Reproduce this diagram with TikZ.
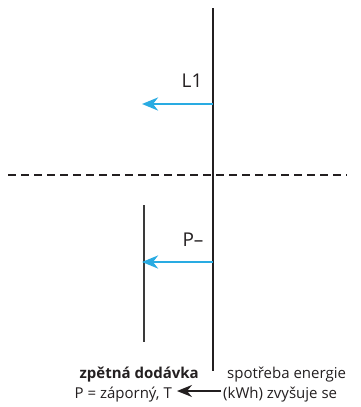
\documentclass[tikz,border=0pt]{standalone}
\usepackage{fontspec}
\setmainfont{Open Sans}
\usetikzlibrary{arrows.meta}
\definecolor{flowblue}{HTML}{29ABE2}
\definecolor{axisink}{HTML}{231F20}
\definecolor{thingray}{HTML}{3A3A3A}
\tikzset{
  axis/.style={draw=axisink, line width=2.6pt},
  divide/.style={draw=axisink, line width=2.2pt, dash pattern=on 8pt off 5pt},
  guide/.style={draw=thingray, line width=1.1pt},
  flow/.style={-{Stealth[length=16pt, width=13pt, inset=5pt]}, draw=flowblue, line width=2.6pt},
  count/.style={-{Stealth[length=15pt, width=12pt, inset=5pt]}, draw=axisink, line width=2pt},
  lbl/.style={font=\fontsize{19}{21}\selectfont, text=axisink, inner sep=0pt},
  note/.style={font=\fontsize{15}{17}\selectfont, text=axisink, inner sep=0pt},
}
\begin{document}
\begin{tikzpicture}[x=1pt,y=-1pt]
  \useasboundingbox (0,0) rectangle (361,407);
  % axis and divide
  \coordinate (top) at (213,8);
  \coordinate (bot) at (213,371);
  \draw[axis] (top) -- (bot);
  \coordinate (dl) at (8,175);
  \coordinate (dr) at (347,175);
  \draw[divide] (dl) -- (dr);
  \coordinate (gtop) at (144,205);
  \coordinate (gbot) at (144,342);
  \draw[guide] (gtop) -- (gbot);
  % flows
  \coordinate (l1s) at (213,104);
  \coordinate (l1e) at (142,104);
  \draw[flow] (l1s) -- (l1e);
  \node[lbl] (l1) at (192,81) {L1};
  \coordinate (pms) at (213,262);
  \coordinate (pme) at (142,262);
  \draw[flow] (pms) -- (pme);
  \node[lbl] (pm) at (193,240) {P–};
  % notes
  \node[note, anchor=base east, font=\fontsize{15}{17}\selectfont\bfseries] (back) at (199,378) {zpětná dodávka};
  \node[note, anchor=base east] (neg) at (172,398) {P = záporný, T};
  \node[note, anchor=base west] (use) at (227,378) {spotřeba energie};
  \node[note, anchor=base west] (kwh) at (223,398) {(kWh) zvyšuje se};
  \draw[count] ([shift={(-2,-7)}]kwh.base west) -- ([shift={(5,-7)}]neg.base east);
\end{tikzpicture}
\end{document}
